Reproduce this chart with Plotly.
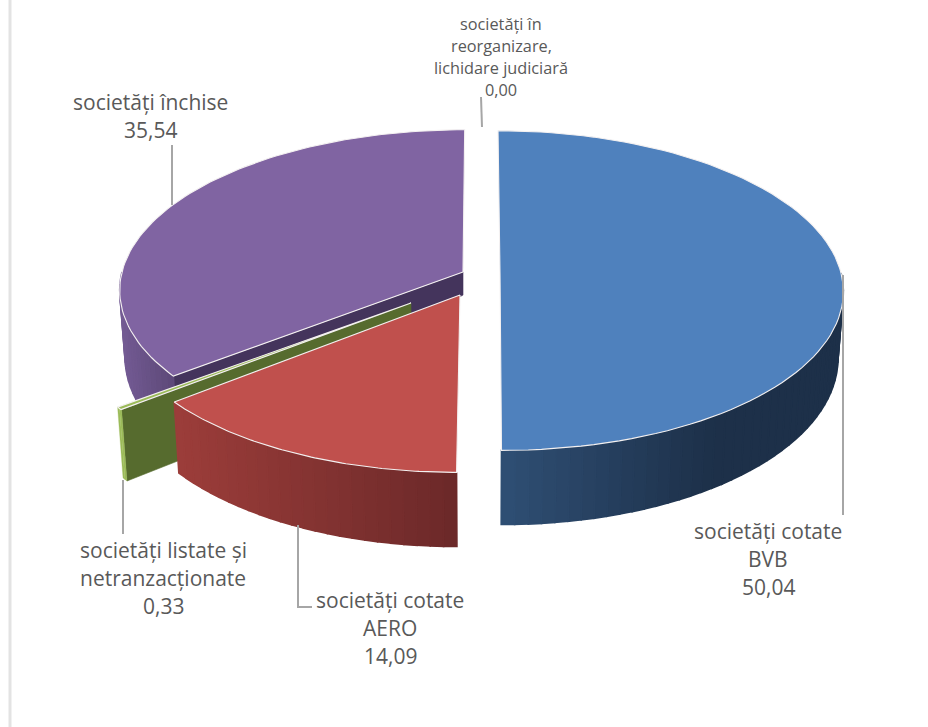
import math
import plotly.graph_objects as go

# ---- data ----
categories = ["societăți cotate BVB", "societăți cotate AERO",
              "societăți listate și netranzacționate", "societăți închise",
              "societăți în reorganizare, lichidare judiciară"]
values = [50.04, 14.09, 0.33, 35.54, 0.00]
label_lines = [["societăți cotate", "BVB"], ["societăți cotate", "AERO"],
               ["societăți listate și", "netranzacționate"], ["societăți închise"],
               ["societăți în", "reorganizare,", "lichidare judiciară"]]

# ---- 3-D projection settings (style, not data) ----
W, H = 928, 727
R, K, P, DEPTH, VX, BOTTOM_SHRINK = 341, 0.463, 0.11, 66, 480, 0.985
origins = [(500, 273), (460, 295), (411, 303), (463, 272), (463, 272)]
top_colors = ["#4f81bd", "#c0504d", "#9bbb59", "#8064a2", "#8064a2"]
wall_colors = [("#2f4f74", "#1d3049"), ("#9c3d3a", "#6b2929"),
               ("#9bbb59", "#9bbb59"), ("#725a92", "#5d4878"), ("#725a92", "#5d4878")]
cut_colors = [None, None, "#566b2e", "#44345c", None]
cut_apex_depth = [0, 0, 1, 0.35, 0]   # how far the cut face drops at the pie centre
wall_line = [1.6, 1.6, 0.3, 1.6, 1.6]
LEADER = "#a6a6a6"


def project(origin, theta, r=R, bottom=False):
    c, s_ = math.cos(theta), math.sin(theta)
    s = 1 / (1 + P * c * r / R)
    x = VX + (origin[0] + r * s_ - VX) * s
    y = origin[1] - r * K * c * s
    if bottom:
        x = VX + (x - VX) * BOTTOM_SHRINK
        y += DEPTH * s
    return x, y


def mix(a, b, t):
    ca = [int(a[i:i + 2], 16) for i in (1, 3, 5)]
    cb = [int(b[i:i + 2], 16) for i in (1, 3, 5)]
    return "rgb(%d,%d,%d)" % tuple(round(u + (v - u) * t) for u, v in zip(ca, cb))


fig = go.Figure()


def poly(pts, fill, line=None, width=0.6):
    fig.add_trace(go.Scatter(
        x=[p[0] for p in pts] + [pts[0][0]], y=[p[1] for p in pts] + [pts[0][1]],
        mode="lines", fill="toself", fillcolor=fill,
        line=dict(color=line or fill, width=width),
        hoverinfo="skip", showlegend=False))


total = sum(values)
spans, acc = [], 0.0
for v in values:
    a0 = acc / total * 2 * math.pi
    acc += v
    spans.append((a0, acc / total * 2 * math.pi))


def arc(a0, a1, n=90):
    return [a0 + (a1 - a0) * i / n for i in range(n + 1)]


def draw_slice(i):
    if values[i] <= 0:
        return
    o, (a0, a1) = origins[i], spans[i]
    # radial cut face at the near end of the slice
    if cut_colors[i]:
        ax, ay = project(o, a0, 0)
        poly([(ax, ay), project(o, a0), project(o, a0, bottom=True),
              (ax, ay + DEPTH * cut_apex_depth[i])], cut_colors[i])
    # outer wall, as shaded strips (front half only)
    lo, hi = max(a0, math.pi / 2), min(a1, 3 * math.pi / 2)
    if hi > lo:
        strips = max(2, int((hi - lo) / 0.035))
        xs = [project(o, t)[0] for t in (lo, hi)]
        xl, xr = min(xs), max(xs)
        for k in range(strips):
            t0, t1 = lo + (hi - lo) * k / strips, lo + (hi - lo) * (k + 1) / strips
            mid = project(o, (t0 + t1) / 2)[0]
            frac = (mid - xl) / max(xr - xl, 1)
            col = mix(wall_colors[i][0], wall_colors[i][1], min(1, frac * (1.6 if i == 0 else 1)))
            ts = arc(t0, t1, 3)
            poly([project(o, t) for t in ts] + [project(o, t, bottom=True) for t in reversed(ts)],
                 col, width=wall_line[i])
    # top face
    poly([project(o, 0, 0)] + [project(o, t) for t in arc(a0, a1)], top_colors[i], "#f4f1f1", 1.1)


for idx in (3, 2, 1, 0):
    draw_slice(idx)

leaders = [
    ([843, 843], [275, 515]),
    ([298, 298, 312], [525, 607, 607]),
    ([123, 123], [480, 534]),
    ([172, 172], [145, 205]),
    ([481, 482], [97, 127]),
]
for lx, ly in leaders:
    fig.add_trace(go.Scatter(x=lx, y=ly, mode="lines", line=dict(color=LEADER, width=2),
                             hoverinfo="skip", showlegend=False))

# label anchor: centre x, first-line y, line pitch, font size
label_pos = [(768, 531, 28, 21), (390, 600, 28, 21), (163, 550, 28, 21),
             (150, 102, 28, 21), (501, 24, 22, 16.3)]
for i, (cx, y0, pitch, size) in enumerate(label_pos):
    lines = label_lines[i] + [f"{values[i]:.2f}".replace(".", ",")]
    for j, txt in enumerate(lines):
        fig.add_annotation(x=cx, y=y0 + j * pitch, text=txt, showarrow=False,
                           xref="x", yref="y", xanchor="center", yanchor="middle",
                           font=dict(family="Open Sans", size=size, color="#595959"))

fig.add_shape(type="line", x0=10, x1=10, y0=0, y1=H, xref="x", yref="y",
              line=dict(color="#e3e3e3", width=3))

fig.update_layout(
    width=W, height=H, margin=dict(l=0, r=0, t=0, b=0),
    paper_bgcolor="white", plot_bgcolor="white", showlegend=False,
    xaxis=dict(range=[0, W], visible=False, fixedrange=True),
    yaxis=dict(range=[H, 0], visible=False, fixedrange=True),
)
fig.write_html("out.html", config={"displayModeBar": False},
               post_script="document.body.style.margin='0';document.body.style.overflow='hidden';")
